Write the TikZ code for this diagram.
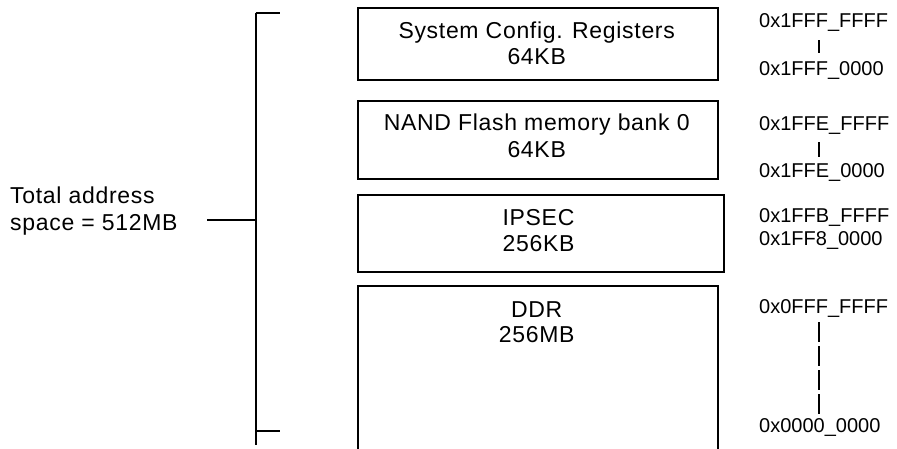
\documentclass[tikz,border=0pt]{standalone}
\usepackage{fontspec}
\setmainfont{Liberation Sans}
\newfontfamily\spacedsans[LetterSpace=3]{Liberation Sans}
\begin{document}
\begin{tikzpicture}[x=1pt,y=-1pt,
  region/.style={draw=black,line width=2pt,rectangle,inner sep=0pt,anchor=north west},
  boxtext/.style={anchor=base,inner sep=0pt,font=\spacedsans\fontsize{23}{26}\selectfont},
  addr/.style={anchor=base west,inner sep=0pt,font=\fontsize{20}{23}\selectfont},
  sidetext/.style={anchor=base west,inner sep=0pt,font=\spacedsans\fontsize{23}{26}\selectfont},
  brace/.style={line width=2pt},
  tick/.style={line width=1.2pt}]
\clip (0,0) rectangle (897,448);
\useasboundingbox (0,0) rectangle (897,448);
\fill[white] (0,0) rectangle (897,448);

% memory regions
\node[region,minimum width=360pt,minimum height=72.6pt] (cfg) at (356.7,6.7) {};
\node[region,minimum width=360pt,minimum height=77.7pt] (nand) at (356.7,100) {};
\node[region,minimum width=366pt,minimum height=77pt] (ipsec) at (356.7,194) {};
\node[region,minimum width=360.3pt,minimum height=200pt] (ddr) at (356.7,284.5) {};

% region names and sizes
\node[boxtext] (cfgA) at (536.7,38) {System Config. Registers};
\node[boxtext] (cfgB) at (536.7,64) {64KB};
\node[boxtext] (nandA) at (536.7,130) {NAND Flash memory bank 0};
\node[boxtext] (nandB) at (536.7,157) {64KB};
\node[boxtext] (ipsecA) at (538.5,225) {IPSEC};
\node[boxtext] (ipsecB) at (538.5,251) {256KB};
\node[boxtext] (ddrA) at (536.7,317) {DDR};
\node[boxtext] (ddrB) at (536.7,342) {256MB};

% address ranges
\node[addr] (cfgHi) at (759,27) {0x1FFF\_FFFF};
\node[addr] (cfgLo) at (759,75) {0x1FFF\_0000};
\node[addr] (nandHi) at (759,130) {0x1FFE\_FFFF};
\node[addr] (nandLo) at (759,177) {0x1FFE\_0000};
\node[addr] (ipsecHi) at (759,222) {0x1FFB\_FFFF};
\node[addr] (ipsecLo) at (759,245) {0x1FF8\_0000};
\node[addr] (ddrHi) at (759,313) {0x0FFF\_FFFF};
\node[addr] (ddrLo) at (759,432) {0x0000\_0000};

\draw[tick] (819,40) -- (819,53);
\draw[tick] (819,142) -- (819,157);
\draw[tick,dash pattern=on 20pt off 4pt] (819,322) -- (819,414);

% total address space bracket
\node[sidetext] (totA) at (10,203) {Total address};
\node[sidetext] (totB) at (10,230) {space = 512MB};
\coordinate (brTop) at (255.7,12.5);
\coordinate (brBot) at (255.7,445);
\coordinate (brMid) at (255.7,220);
\coordinate (brFeed) at (207,220);
\draw[brace] (brTop) -- (brBot);
\draw[brace] (brTop) -- ++(24.5,0);
\draw[brace] (255.7,431) -- ++(24.5,0);
\draw[brace] (brFeed) -- (brMid);
\end{tikzpicture}
\end{document}
